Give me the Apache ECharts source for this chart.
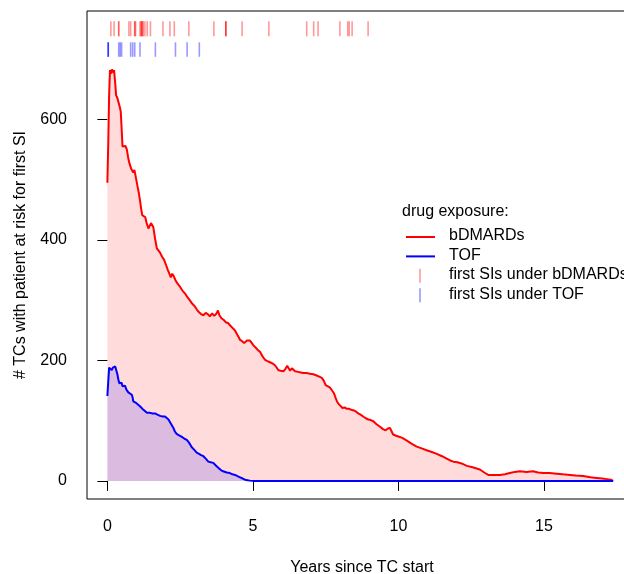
<!DOCTYPE html>
<html>
<head>
<meta charset="utf-8">
<script src="https://cdn.jsdelivr.net/npm/echarts@6/dist/echarts.min.js"></script>
<style>
html,body{margin:0;padding:0;background:#fff;}
#chart{width:624px;height:574px;}
</style>
</head>
<body>
<div id="chart"></div>
<script>
// ---- data ----
const xTicks = [0, 5, 10, 15];
const yTicks = [0, 200, 400, 600];

const bdmYears = [0.00,0.03,0.06,0.09,0.13,0.16,0.20,0.23,0.27,0.30,0.34,0.38,0.42,0.46,0.49,0.52,0.57,0.62,0.67,0.72,0.76,0.82,0.89,0.93,0.97,1.04,1.08,1.12,1.16,1.20,1.25,1.30,1.35,1.41,1.46,1.50,1.53,1.58,1.64,1.70,1.75,1.81,1.88,1.95,2.02,2.08,2.13,2.18,2.23,2.28,2.35,2.42,2.50,2.58,2.67,2.75,2.83,2.92,3.00,3.08,3.15,3.22,3.30,3.38,3.45,3.52,3.60,3.67,3.75,3.80,3.85,3.92,4.00,4.08,4.15,4.22,4.30,4.38,4.45,4.52,4.56,4.63,4.70,4.73,4.80,4.86,4.90,4.96,5.02,5.10,5.18,5.25,5.33,5.42,5.50,5.59,5.67,5.76,5.82,5.87,5.95,6.05,6.12,6.18,6.22,6.28,6.34,6.39,6.45,6.55,6.65,6.73,6.85,6.96,7.08,7.19,7.28,7.37,7.44,7.50,7.58,7.65,7.71,7.78,7.85,7.90,7.96,8.02,8.08,8.15,8.22,8.30,8.38,8.47,8.55,8.62,8.70,8.79,8.88,8.97,9.05,9.14,9.25,9.37,9.47,9.56,9.64,9.71,9.77,9.82,9.92,10.05,10.15,10.29,10.45,10.63,10.80,10.97,11.15,11.32,11.50,11.66,11.78,11.89,12.03,12.17,12.35,12.52,12.66,12.80,12.95,13.09,13.30,13.49,13.66,13.83,14.00,14.18,14.40,14.63,14.80,14.98,15.20,15.44,15.65,15.90,16.10,16.35,16.60,16.81,17.00,17.16,17.30,17.38];
const bdmCounts = [495,560,640,682,676,683,678,682,660,640,636,634,622,613,585,555,552,556,550,535,527,518,512,516,506,488,478,466,452,441,440,438,428,419,422,428,426,421,402,386,383,379,372,367,358,350,344,338,344,340,332,327,322,316,311,305,300,294,290,284,280,277,275,279,277,273,278,274,278,283,275,270,267,263,262,258,254,250,244,238,234,232,229,231,233,235,233,229,225,221,217,214,207,201,199,197,195,192,188,184,183,182,186,191,189,183,187,185,182,181,180,179,179,178,177,175,173,171,166,159,157,155,153,146,137,131,127,124,121,122,120,120,118,117,115,112,110,107,104,102,101,99,94,90,86,84,87,88,82,77,75,73,71,67,62,57,54,51,48,45,41,37,34,32,31,29,25,23,21,19,14,10,10,10,11,13,15,16,15,16,14,13,13,12,11,10,9,8,6,5,4,3,2,0];

const tofYears = [0.00,0.03,0.06,0.09,0.12,0.15,0.19,0.23,0.27,0.30,0.34,0.38,0.41,0.45,0.49,0.52,0.55,0.58,0.61,0.65,0.68,0.72,0.78,0.84,0.87,0.89,0.95,1.00,1.06,1.12,1.18,1.24,1.30,1.36,1.42,1.47,1.55,1.64,1.72,1.81,1.90,1.98,2.04,2.10,2.16,2.21,2.27,2.32,2.38,2.45,2.50,2.56,2.65,2.73,2.80,2.85,2.90,2.98,3.07,3.15,3.22,3.30,3.38,3.47,3.55,3.64,3.72,3.81,3.90,3.98,4.10,4.21,4.30,4.39,4.47,4.56,4.65,4.73,4.82,4.90,5.05,5.25,17.38];
const tofCounts = [141,165,188,189,186,184,188,189,190,188,178,168,162,165,163,157,154,159,158,152,150,147,145,143,138,132,130,129,128,124,121,118,115,113,114,113,112,112,110,108,107,107,105,102,97,93,88,82,78,76,75,73,70,68,64,60,56,52,47,45,43,41,37,32,31,30,26,22,18,16,14,13,11,10,8,6,4,2,1,0.5,0,0,0];

// first SIs (rug marks, years); repeated values are overlapping events
const firstSIbdm = [0.12,0.23,0.39,0.39,0.74,0.80,0.94,0.94,0.97,1.12,1.17,1.17,1.17,1.22,1.22,1.29,1.37,1.48,1.91,2.15,2.30,2.80,3.66,4.07,4.07,4.07,4.63,5.55,6.85,7.09,7.24,7.99,8.26,8.31,8.41,8.96];
const firstSItof = [0.03,0.03,0.03,0.39,0.44,0.49,0.80,0.87,0.94,1.12,1.65,2.34,2.74,3.16];
const rugBdmSpan = [738, 763];
const rugTofSpan = [704, 728];

const legendTitle = 'drug exposure:';
const legendLabels = ['bDMARDs', 'TOF', 'first SIs under bDMARDs', 'first SIs under TOF'];

// ---- build ----
const FONT = "'Liberation Sans', Arial, Helvetica, sans-serif";
const FS = 16;
const zip = (a, b) => a.map((v, i) => [v, b[i]]);

function rugSeries(values, span, color) {
  return {
    type: 'custom',
    silent: true,
    data: values.map(t => [t, span[0], span[1]]),
    encode: { x: 0, y: [1, 2] },
    renderItem: function (params, api) {
      const p1 = api.coord([api.value(0), api.value(1)]);
      const p2 = api.coord([api.value(0), api.value(2)]);
      return {
        type: 'line',
        shape: { x1: p1[0], y1: p1[1], x2: p2[0], y2: p2[1] },
        style: { stroke: color, lineWidth: 1.6 }
      };
    },
    z: 5
  };
}

const chart = echarts.init(document.getElementById('chart'), null, { renderer: 'canvas' });

const lx = 406, ly0 = 237, lstep = 19.4, tx = 449;
const legendGraphics = [
  { type: 'text', left: 402, top: 213 - 9, style: { text: legendTitle, font: FS + 'px ' + FONT, fill: '#000' } },
  { type: 'line', shape: { x1: lx, y1: ly0, x2: lx + 29, y2: ly0 }, style: { stroke: '#ff0000', lineWidth: 2 } },
  { type: 'line', shape: { x1: lx, y1: ly0 + lstep, x2: lx + 29, y2: ly0 + lstep }, style: { stroke: '#0000ff', lineWidth: 2 } },
  { type: 'line', shape: { x1: 420, y1: ly0 + 2 * lstep - 7, x2: 420, y2: ly0 + 2 * lstep + 7 }, style: { stroke: 'rgba(255,0,0,0.4)', lineWidth: 1.6 } },
  { type: 'line', shape: { x1: 420, y1: ly0 + 3 * lstep - 7, x2: 420, y2: ly0 + 3 * lstep + 7 }, style: { stroke: 'rgba(0,0,255,0.4)', lineWidth: 1.6 } }
];
legendLabels.forEach((s, i) => {
  legendGraphics.push({ type: 'text', left: tx, top: ly0 + i * lstep - 9, style: { text: s, font: FS + 'px ' + FONT, fill: '#000' } });
});

chart.setOption({
  animation: false,
  backgroundColor: '#fff',
  textStyle: { fontFamily: FONT },
  grid: { left: 87, top: 11, width: 550, height: 488, outerBoundsMode: 'none', containLabel: false, show: true, borderColor: '#000', borderWidth: 1, backgroundColor: 'transparent' },
  xAxis: {
    type: 'value', min: -0.7, max: 18.2,
    name: 'Years since TC start', nameLocation: 'middle', nameGap: 61,
    nameTextStyle: { fontSize: FS, color: '#000', fontFamily: FONT },
    axisLine: { show: false },
    axisTick: { show: true, inside: false, length: 10, customValues: xTicks, lineStyle: { color: '#000', width: 1 } },
    axisLabel: { show: true, customValues: xTicks, margin: 20, fontSize: FS, color: '#000', fontFamily: FONT },
    splitLine: { show: false }
  },
  yAxis: {
    type: 'value', min: -30, max: 780,
    name: '# TCs with patient at risk for first SI', nameLocation: 'middle', nameGap: 58, nameRotate: 90,
    nameTextStyle: { fontSize: FS, color: '#000', fontFamily: FONT },
    axisLine: { show: false },
    axisTick: { show: true, inside: false, length: 10, customValues: yTicks, lineStyle: { color: '#000', width: 1 } },
    axisLabel: { show: true, customValues: yTicks, margin: 20, fontSize: FS, color: '#000', fontFamily: FONT },
    splitLine: { show: false }
  },
  series: [
    {
      name: 'bDMARDs', type: 'line', data: zip(bdmYears, bdmCounts),
      showSymbol: false, symbol: 'none',
      lineStyle: { color: '#ff0000', width: 2 },
      itemStyle: { color: '#ff0000' },
      areaStyle: { color: 'rgba(255,0,0,0.2)', origin: 0 },
      z: 2
    },
    {
      name: 'TOF', type: 'line', data: zip(tofYears, tofCounts),
      showSymbol: false, symbol: 'none',
      lineStyle: { color: '#0000ff', width: 2 },
      itemStyle: { color: '#0000ff' },
      areaStyle: { color: 'rgba(0,0,255,0.2)', origin: 0 },
      z: 3
    },
    rugSeries(firstSIbdm, rugBdmSpan, 'rgba(255,0,0,0.4)'),
    rugSeries(firstSItof, rugTofSpan, 'rgba(0,0,255,0.4)')
  ],
  graphic: legendGraphics
});
</script>
</body>
</html>
